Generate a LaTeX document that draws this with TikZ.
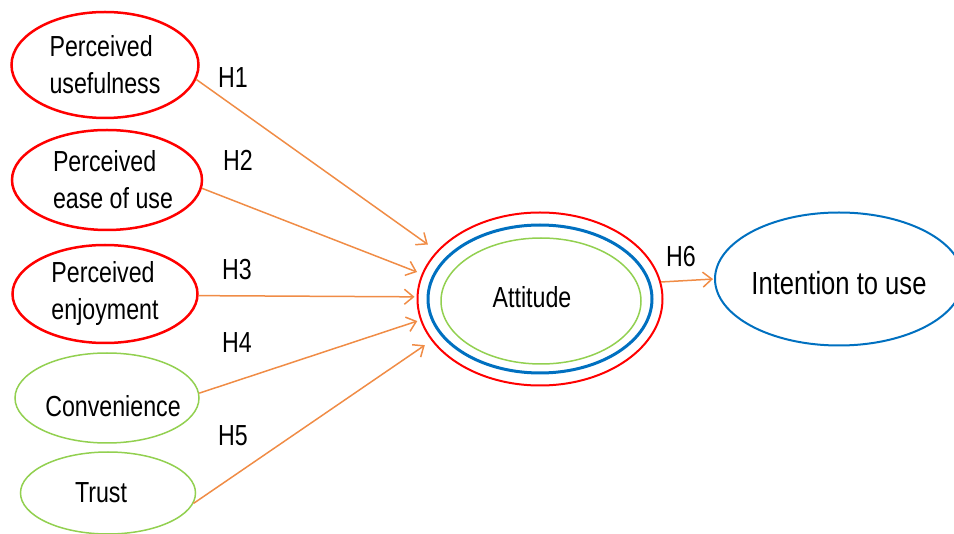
\documentclass[tikz,border=0pt]{standalone}
\usepackage{fontspec}
\setmainfont{Liberation Sans}[FakeStretch=0.80]
\usetikzlibrary{arrows.meta, shapes}

\definecolor{hred}{RGB}{255,0,0}
\definecolor{hgreen}{RGB}{146,208,80}
\definecolor{hblue}{RGB}{0,112,192}
\definecolor{horange}{RGB}{240,140,70}

\tikzset{
	var/.style={ellipse, inner sep=0pt, align=left, font=\fontsize{29}{37}\selectfont},
	redvar/.style={var, draw=hred, line width=2.5pt},
	greenvar/.style={var, draw=hgreen, line width=1.5pt},
	vartext/.style={font=\fontsize{29}{37}\selectfont, align=left, inner sep=0pt},
	hyp/.style={draw=horange, line width=1.5pt},
	hlabel/.style={font=\fontsize{29}{30}\selectfont}
}

\begin{document}
\begin{tikzpicture}[x=1pt,y=-1pt,->,>={Straight Barb[length=9pt,width=15pt]}]
		\useasboundingbox (0,0) rectangle (954,534);

		% predictors
		\node[redvar, minimum width=187pt, minimum height=106pt] (PU) at (105,65) {Perceived\\usefulness};
		\node[redvar, minimum width=190pt, minimum height=100pt,
			label={[vartext, xshift=6pt]center:Perceived\\ease of use}] (PE) at (107,180) {};
		\node[redvar, minimum width=185pt, minimum height=98pt] (PJ) at (105,294) {Perceived\\enjoyment};
		\node[greenvar, minimum width=184pt, minimum height=90pt,
			label={[vartext, xshift=6pt, yshift=-8pt]center:Convenience}] (CV) at (107,398) {};
		\node[greenvar, minimum width=175pt, minimum height=82pt,
			label={[vartext, xshift=-7pt]center:Trust}] (TR) at (108,493) {};

		% attitude
		\node[var, draw=hred, line width=2pt, minimum width=245pt, minimum height=173pt,
			label={[vartext, xshift=-8pt, yshift=2pt]center:Attitude}] (AT) at (540,299) {};
		\node[var, draw=hblue, line width=3pt, minimum width=224pt, minimum height=148pt] (ATb) at (AT.center) {};
		\node[var, draw=hgreen, line width=1.5pt, minimum width=200pt, minimum height=126pt] (ATg) at (541,301) {};

		% outcome
		\node[var, draw=hblue, line width=2pt, minimum width=248pt, minimum height=133pt,
			label={[vartext, yshift=-4pt, font=\fontsize{32}{36}\selectfont]center:Intention to use}] (IU) at (839,279) {};

		\draw[hyp, shorten >=11pt] (PU.-9) -- (AT.155);
		\draw[hyp, shorten >=5pt] (PE.-5) -- (AT.168);
		\draw[hyp, shorten >=2pt] (PJ.-1) -- (AT.179);
		\draw[hyp, shorten >=3pt] (CV.3) -- (AT.190);
		\draw[hyp, shorten >=8pt] (TR.-7) -- (AT.201);
		\draw[hyp, shorten >=1pt] (AT.8) -- (IU.west);

		\node[hlabel] (h1) at (233,78) {H1};
		\node[hlabel] (h2) at (238,160) {H2};
		\node[hlabel] (h3) at (237,270) {H3};
		\node[hlabel] (h4) at (237,343) {H4};
		\node[hlabel] (h5) at (233,436) {H5};
		\node[hlabel] (h6) at (681,257) {H6};
\end{tikzpicture}
\end{document}
